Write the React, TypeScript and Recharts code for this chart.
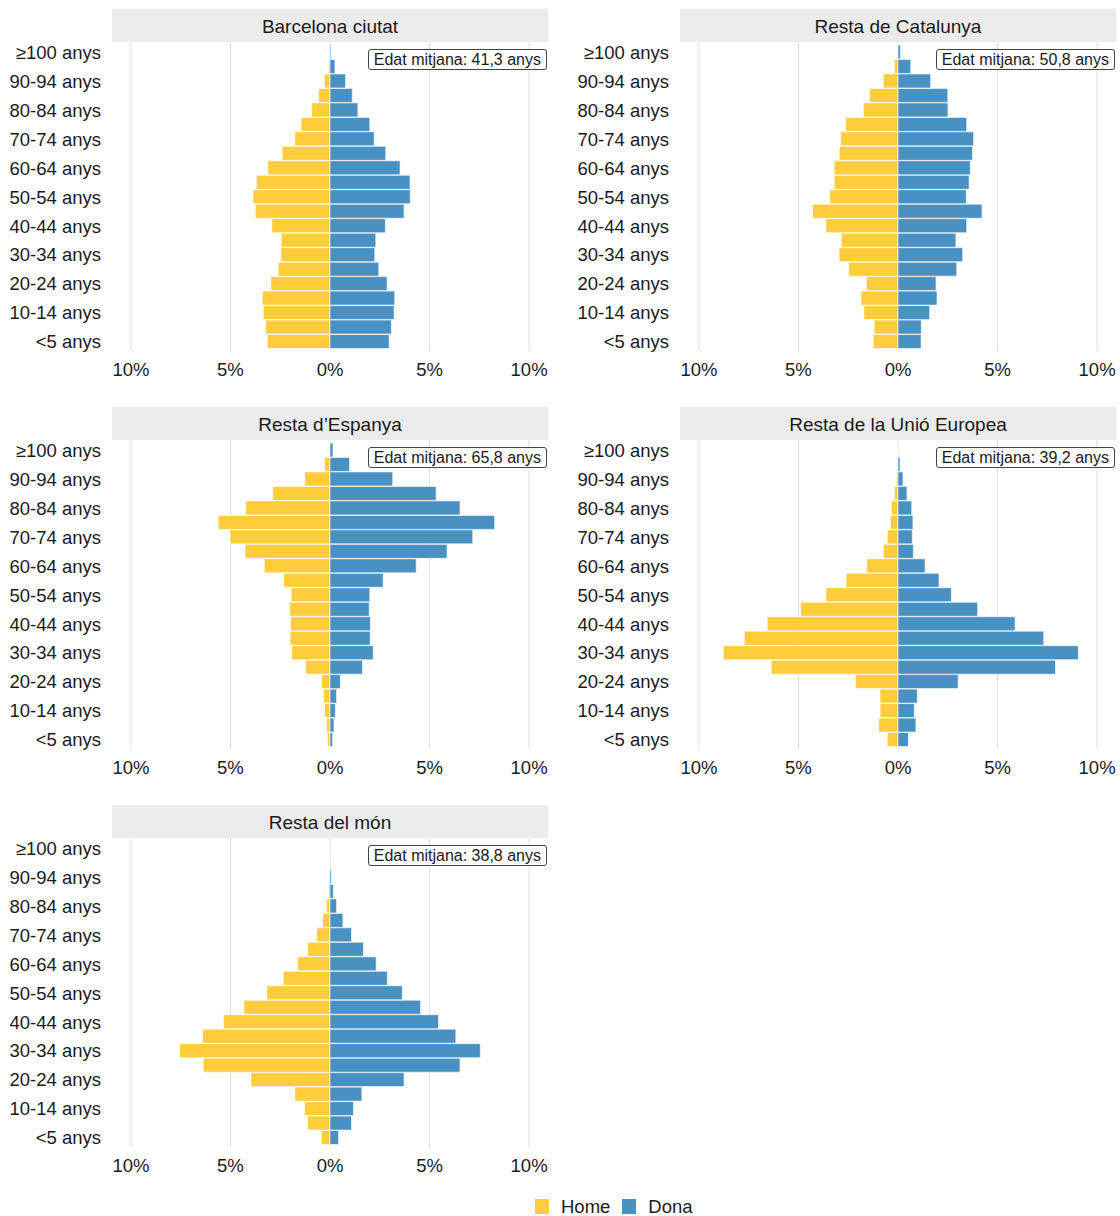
import { Bar, BarChart, CartesianGrid, XAxis, YAxis } from "recharts"

const FONT = "'Liberation Sans', Arial, Helvetica, sans-serif"
const HOME_COLOR = "#ffcd3c"
const DONA_COLOR = "#4a91c3"
const TEXT = "#1a1a1a"

// age groups, bottom (<5) to top (≥100)
const AGES = [
  "<5 anys", "5-9 anys", "10-14 anys", "15-19 anys", "20-24 anys",
  "25-29 anys", "30-34 anys", "35-39 anys", "40-44 anys", "45-49 anys",
  "50-54 anys", "55-59 anys", "60-64 anys", "65-69 anys", "70-74 anys",
  "75-79 anys", "80-84 anys", "85-89 anys", "90-94 anys", "95-99 anys",
  "≥100 anys",
]

const X_TICKS = [-10, -5, 0, 5, 10]

// % of population per age group
const bcnHome = [3.15, 3.23, 3.35, 3.4, 2.97, 2.6, 2.47, 2.45, 2.92, 3.75, 3.87, 3.7, 3.12, 2.4, 1.77, 1.45, 0.92, 0.57, 0.28, 0.07, 0.01]
const bcnDona = [2.97, 3.08, 3.22, 3.25, 2.87, 2.45, 2.25, 2.3, 2.78, 3.72, 4.03, 4.02, 3.52, 2.8, 2.22, 2.0, 1.4, 1.12, 0.78, 0.25, 0.05]

const catHome = [1.24, 1.19, 1.71, 1.86, 1.59, 2.48, 2.96, 2.85, 3.62, 4.29, 3.43, 3.2, 3.2, 2.95, 2.88, 2.63, 1.74, 1.42, 0.74, 0.18, 0.02]
const catDona = [1.16, 1.17, 1.59, 1.96, 1.91, 2.95, 3.25, 2.91, 3.45, 4.22, 3.43, 3.57, 3.63, 3.74, 3.8, 3.45, 2.51, 2.5, 1.64, 0.64, 0.12]

const espHome = [0.13, 0.18, 0.27, 0.32, 0.42, 1.22, 1.92, 2.0, 1.98, 2.02, 1.95, 2.32, 3.3, 4.27, 5.02, 5.62, 4.23, 2.88, 1.27, 0.27, 0.02]
const espDona = [0.13, 0.2, 0.27, 0.33, 0.52, 1.63, 2.17, 2.02, 2.03, 1.97, 2.0, 2.67, 4.33, 5.88, 7.17, 8.27, 6.53, 5.33, 3.15, 0.98, 0.15]

const ueHome = [0.54, 0.97, 0.9, 0.9, 2.14, 6.37, 8.78, 7.72, 6.57, 4.89, 3.62, 2.61, 1.57, 0.74, 0.54, 0.38, 0.33, 0.18, 0.08, 0.02, 0]
const ueDona = [0.52, 0.9, 0.82, 0.97, 3.02, 7.91, 9.06, 7.32, 5.88, 4.0, 2.68, 2.06, 1.36, 0.77, 0.72, 0.75, 0.69, 0.45, 0.25, 0.1, 0.01]

const monHome = [0.43, 1.12, 1.28, 1.77, 3.97, 6.37, 7.55, 6.4, 5.35, 4.32, 3.17, 2.35, 1.62, 1.12, 0.67, 0.37, 0.18, 0.07, 0.03, 0.01, 0]
const monDona = [0.43, 1.08, 1.18, 1.6, 3.72, 6.53, 7.55, 6.32, 5.45, 4.55, 3.63, 2.88, 2.32, 1.68, 1.08, 0.65, 0.33, 0.17, 0.07, 0.02, 0.01]

const TITLES = [
  "Barcelona ciutat",
  "Resta de Catalunya",
  "Resta d’Espanya",
  "Resta de la Unió Europea",
  "Resta del món",
]
const MEAN_AGES = ["41,3", "50,8", "65,8", "39,2", "38,8"]
const HOMES = [bcnHome, catHome, espHome, ueHome, monHome]
const DONES = [bcnDona, catDona, espDona, ueDona, monDona]

const AXIS_W = 112
const PLOT_W = 436
const PLOT_H = 309
const STRIP_H = 33

type PanelProps = {
  left: number
  top: number
  title: string
  mean: string
  home: number[]
  dona: number[]
}

function Panel({ left, top, title, mean, home, dona }: PanelProps) {
  const data = AGES.map((age, i) => ({ age, home: -home[i], dona: dona[i] }))
  return (
    <>
      <div
        style={{
          position: "absolute",
          left: left + AXIS_W,
          top,
          width: PLOT_W,
          height: STRIP_H,
          background: "#ebebeb",
          color: TEXT,
          fontSize: 19,
          lineHeight: `${STRIP_H + 3}px`,
          textAlign: "center",
        }}
      >
        {title}
      </div>
      <div style={{ position: "absolute", left, top: top + STRIP_H }}>
        <BarChart
          layout="vertical"
          width={AXIS_W + PLOT_W}
          height={PLOT_H + 30}
          data={data}
          stackOffset="sign"
          barCategoryGap={0}
          margin={{ top: 0, right: 0, bottom: 0, left: 0 }}
          style={{ overflow: "visible" }}
        >
          <CartesianGrid horizontal={false} stroke="#dedede" syncWithTicks />
          <XAxis
            type="number"
            domain={[-10.95, 10.95]}
            ticks={X_TICKS}
            allowDataOverflow
            height={30}
            axisLine={false}
            tickLine={false}
            tickSize={6}
            tickMargin={6}
            tick={{ fontSize: 18.5, fill: TEXT }}
            tickFormatter={(v: number) => `${Math.abs(v)}%`}
          />
          <YAxis
            type="category"
            dataKey="age"
            reversed
            width={AXIS_W}
            interval={0}
            padding={{ top: 3, bottom: 2 }}
            axisLine={false}
            tickLine={false}
            tickSize={6}
            tickMargin={5}
            tick={{ fontSize: 18.5, fill: TEXT }}
            tickFormatter={(v: string) => (AGES.indexOf(v) % 2 === 0 ? v : "")}
          />
          <Bar
            dataKey="home"
            stackId="a"
            fill={HOME_COLOR}
            stroke="#ffffff"
            strokeWidth={0.6}
            isAnimationActive={false}
          />
          <Bar
            dataKey="dona"
            stackId="a"
            fill={DONA_COLOR}
            stroke="#ffffff"
            strokeWidth={0.6}
            isAnimationActive={false}
          />
        </BarChart>
      </div>
      <div
        style={{
          position: "absolute",
          right: 1120 - (left + AXIS_W + PLOT_W) + 1,
          top: top + STRIP_H + 7,
          height: 19,
          lineHeight: "19px",
          padding: "0 5px",
          border: "1px solid #444",
          borderRadius: 3,
          background: "#fff",
          color: TEXT,
          fontSize: 16,
          whiteSpace: "nowrap",
        }}
      >
        Edat mitjana: {mean} anys
      </div>
    </>
  )
}

export default function App() {
  const lefts = [0, 568]
  const tops = [9, 407, 805]
  return (
    <div
      style={{
        position: "absolute",
        left: 0,
        top: 0,
        width: 1120,
        height: 1216,
        background: "#fff",
        fontFamily: FONT,
        overflow: "hidden",
      }}
    >
      {TITLES.map((title, i) => (
        <Panel
          key={title}
          left={lefts[i % 2]}
          top={tops[Math.floor(i / 2)]}
          title={title}
          mean={MEAN_AGES[i]}
          home={HOMES[i]}
          dona={DONES[i]}
        />
      ))}
      <div
        style={{
          position: "absolute",
          left: 535,
          top: 1196,
          height: 21,
          display: "flex",
          alignItems: "center",
          fontSize: 18.5,
          color: TEXT,
        }}
      >
        <span style={{ width: 14, height: 15, background: HOME_COLOR }} />
        <span style={{ marginLeft: 12, marginRight: 12 }}>Home</span>
        <span style={{ width: 14, height: 15, background: DONA_COLOR }} />
        <span style={{ marginLeft: 12 }}>Dona</span>
      </div>
    </div>
  )
}
